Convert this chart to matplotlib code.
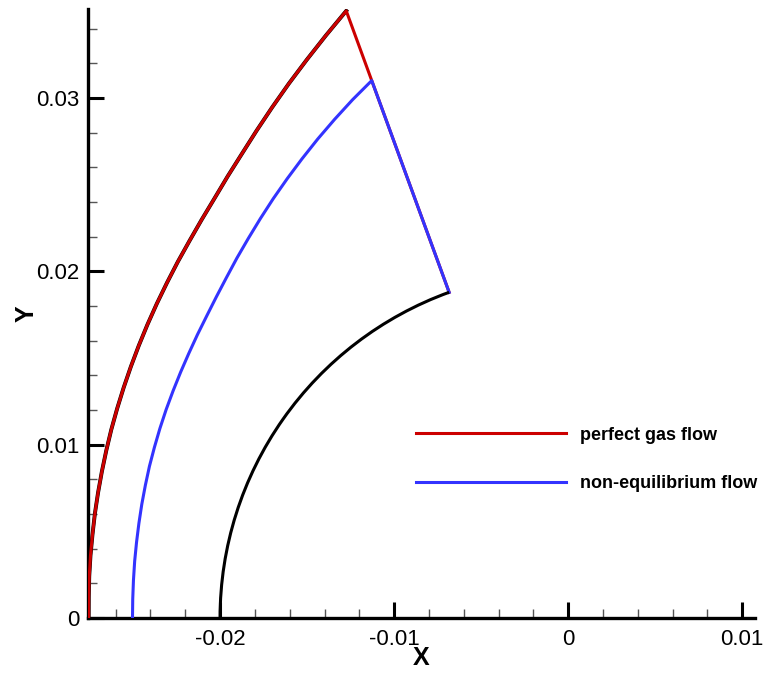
import matplotlib

matplotlib.use("Agg")
import matplotlib.pyplot as plt
import numpy as np
from matplotlib.patches import Arc

plt.rcParams["font.family"] = ["Liberation Sans", "DejaVu Sans"]

# angle from the stagnation line (deg) at which the shock radius is given
shock_angle = [0, 2.5, 5, 7.5, 10, 12.5, 15, 17.5, 20, 22.5, 25, 27.5, 30, 32.5,
               35, 37.5, 40, 42.5, 45, 47.5, 50, 52.5, 55, 57.5, 60, 62.5, 65,
               67.5, 70]

# shock radius from the cylinder centre, perfect gas (also the outer grid boundary)
perfect_r = [0.02755, 0.02757, 0.02762, 0.02768, 0.02775, 0.02785, 0.02796,
             0.02809, 0.02824, 0.02841, 0.02859, 0.02879, 0.02901, 0.02925,
             0.02951, 0.02979, 0.03009, 0.03042, 0.03077, 0.03117, 0.03161,
             0.03213, 0.03269, 0.03333, 0.03402, 0.03476, 0.03554, 0.03638,
             0.03728]

# shock radius, non-equilibrium flow
noneq_r = [0.02503, 0.02504, 0.02507, 0.02512, 0.02518, 0.02526, 0.02536,
           0.02547, 0.02560, 0.02573, 0.02588, 0.02604, 0.02621, 0.02640,
           0.02661, 0.02685, 0.02711, 0.02742, 0.02777, 0.02817, 0.02859,
           0.02905, 0.02954, 0.03005, 0.03059, 0.03116, 0.03175, 0.03237,
           0.03300]

# cylinder wall; the outflow boundary is the ray at the last angle
body_r = 0.02
outflow_angle = 70

x_ticks = [-0.02, -0.01, 0.0, 0.01]
x_labels = ["-0.02", "-0.01", "0", "0.01"]
y_ticks = [0.0, 0.01, 0.02, 0.03]
y_labels = ["0", "0.01", "0.02", "0.03"]

red = "#cc0000"
blue = "#3333ff"


def to_xy(angle, radius):
    phi = np.radians(angle)
    r = np.asarray(radius)
    return -r * np.cos(phi), r * np.sin(phi)


phi_out = np.radians(outflow_angle)
wall_x, wall_y = -body_r * np.cos(phi_out), body_r * np.sin(phi_out)

px, py = to_xy(shock_angle, perfect_r)
nx, ny = to_xy(shock_angle, noneq_r)

fig = plt.figure(figsize=(7.63, 6.73), dpi=100)
ax = fig.add_axes([88 / 763, 55 / 673, 667 / 763, 609 / 673])

ax.plot(px, py, color="black", lw=2.8, zorder=2)
ax.plot(np.append(px, wall_x), np.append(py, wall_y), color=red, lw=2.2,
        zorder=3, label="perfect gas flow")
ax.plot(np.append(nx, wall_x), np.append(ny, wall_y), color=blue, lw=2.2,
        zorder=4, label="non-equilibrium flow")
ax.add_patch(Arc((0, 0), 2 * body_r, 2 * body_r,
                 theta1=180 - outflow_angle, theta2=180,
                 color="black", lw=2.2, zorder=5))

ax.set_xlim(-0.027586, 0.01073)
ax.set_ylim(0, 0.03514)

for side in ["top", "right"]:
    ax.spines[side].set_visible(False)
for side in ["left", "bottom"]:
    ax.spines[side].set_linewidth(2.4)

ax.set_xticks(x_ticks)
ax.set_xticklabels(x_labels)
ax.set_yticks(y_ticks)
ax.set_yticklabels(y_labels)
ax.set_xticks([t / 1000 for t in range(-26, 11, 2)], minor=True)
ax.set_yticks([t / 1000 for t in range(2, 35, 2)], minor=True)
ax.tick_params(which="major", direction="in", length=11.5, width=2.2,
               labelsize=16, pad=8)
ax.tick_params(which="minor", direction="in", length=6.5, width=1.0,
               color="#555555")
ax.tick_params(axis="y", which="major", pad=6)

ax.set_xlabel("X", fontsize=18, fontweight="bold", labelpad=-3)
ax.set_ylabel("Y", fontsize=18, fontweight="bold", labelpad=-2)

ax.legend(loc="center left", bbox_to_anchor=((416 - 88) / 667, (618 - 459.5) / 609),
          frameon=False, borderpad=0, borderaxespad=0, handlelength=8.3,
          handletextpad=0.78, labelspacing=1.77,
          prop={"size": 13, "weight": "bold"})

plt.savefig("out.png", dpi=100)
plt.close()
